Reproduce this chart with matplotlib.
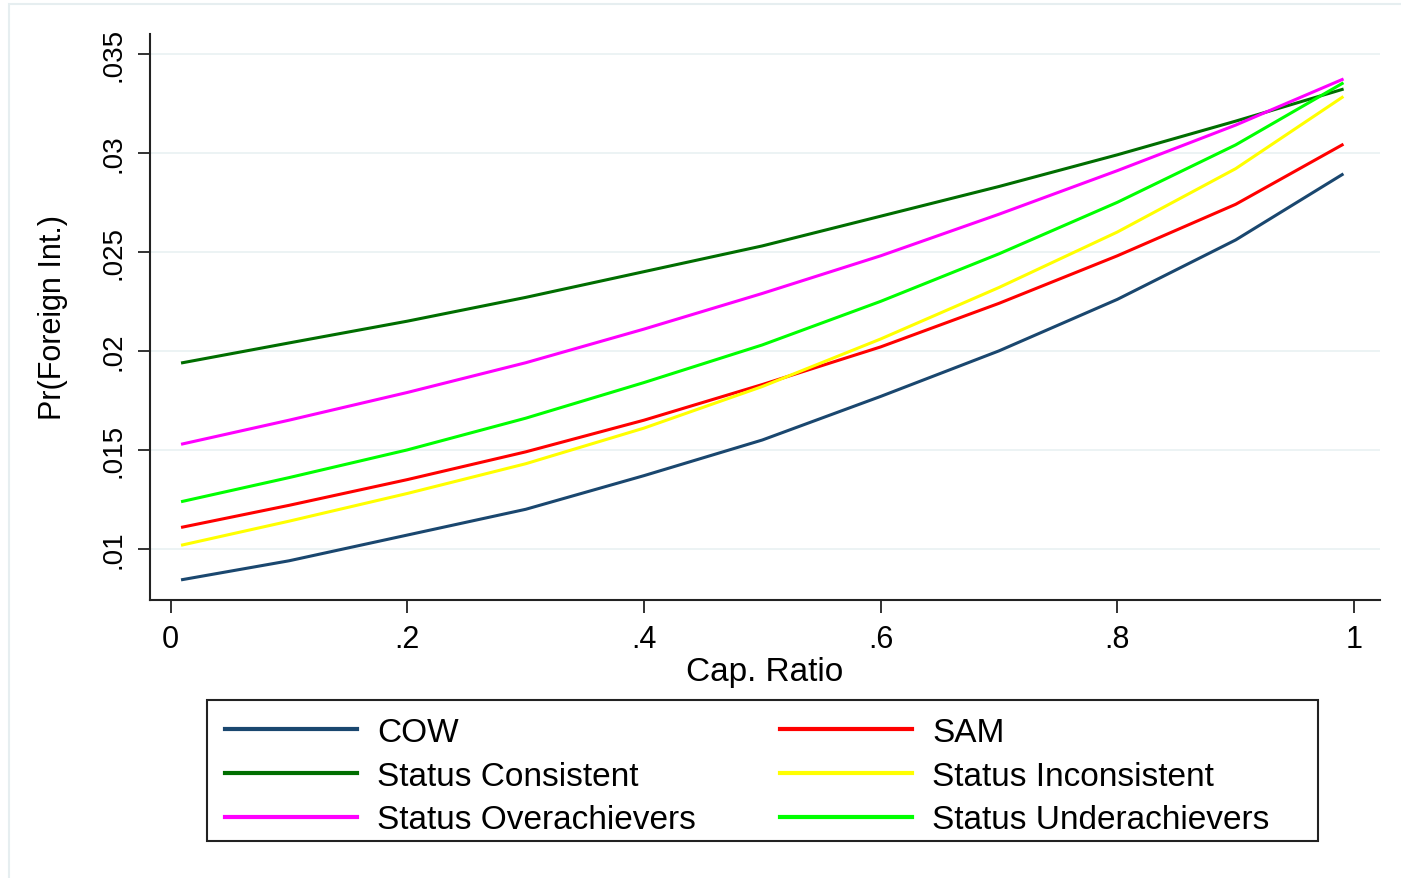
import matplotlib
matplotlib.use("Agg")
import matplotlib.pyplot as plt
from matplotlib.patches import Rectangle

plt.rcParams['font.family'] = ['Liberation Sans', 'DejaVu Sans']

# capability ratio (x) and predicted probabilities
cap_ratio = [0.01, 0.1, 0.2, 0.3, 0.4, 0.5, 0.6, 0.7, 0.8, 0.9, 0.99]

cow = [0.00845, 0.0094, 0.0107, 0.0120, 0.0137, 0.0155, 0.0177, 0.0200, 0.0226, 0.0256, 0.0289]
sam = [0.0111, 0.0122, 0.0135, 0.0149, 0.0165, 0.0183, 0.0202, 0.0224, 0.0248, 0.0274, 0.0304]
consistent = [0.0194, 0.0204, 0.0215, 0.0227, 0.0240, 0.0253, 0.0268, 0.0283, 0.0299, 0.0316, 0.0332]
inconsistent = [0.0102, 0.0114, 0.0128, 0.0143, 0.0161, 0.0182, 0.0206, 0.0232, 0.0260, 0.0292, 0.0328]
overach = [0.0153, 0.0165, 0.0179, 0.0194, 0.0211, 0.0229, 0.0248, 0.0269, 0.0291, 0.0314, 0.0337]
underach = [0.0124, 0.0136, 0.0150, 0.0166, 0.0184, 0.0203, 0.0225, 0.0249, 0.0275, 0.0304, 0.0335]

xticks = [0, 0.2, 0.4, 0.6, 0.8, 1]
xtick_labels = ['0', '.2', '.4', '.6', '.8', '1']
yticks = [0.01, 0.015, 0.02, 0.025, 0.03, 0.035]
ytick_labels = ['.01', '.015', '.02', '.025', '.03', '.035']

W, H = 1401, 879
fig = plt.figure(figsize=(W / 100, H / 100), dpi=100)

# faint outer graph-region border (Stata style)
fig.patches.append(Rectangle((9 / W, -0.01), 1.02, (H - 5) / H + 0.01, transform=fig.transFigure,
                             fill=False, edgecolor='#e6eef0', linewidth=1.5))

ax = fig.add_axes([150 / W, (H - 601) / H, 1230 / W, 566 / H])

l_cow, = ax.plot(cap_ratio, cow, color='#1a476f', lw=2.2, label='COW')
l_sam, = ax.plot(cap_ratio, sam, color='#ff0000', lw=2.2, label='SAM')
l_con, = ax.plot(cap_ratio, consistent, color='#006e00', lw=2.2, label='Status Consistent')
l_inc, = ax.plot(cap_ratio, inconsistent, color='#ffff00', lw=2.2, label='Status Inconsistent')
l_ove, = ax.plot(cap_ratio, overach, color='#ff00ff', lw=2.2, label='Status Overachievers')
l_und, = ax.plot(cap_ratio, underach, color='#00ff00', lw=2.2, label='Status Underachievers')

ax.set_xlim(-0.0175, 1.022)
ax.set_ylim(0.00742, 0.0360)

ax.set_xticks(xticks)
ax.set_xticklabels(xtick_labels, fontsize=22)
ax.set_yticks(yticks)
ax.set_yticklabels(ytick_labels, fontsize=20, rotation=90, va='center')
ax.tick_params(axis='both', direction='out', length=9, width=1.3, color='#222222', pad=8)

ax.grid(axis='y', color='#eaf2f3', lw=1.3)
ax.set_axisbelow(True)
for s in ['top', 'right']:
    ax.spines[s].set_visible(False)
for s in ['left', 'bottom']:
    ax.spines[s].set_color('#222222')
    ax.spines[s].set_linewidth(1.5)

ax.set_xlabel('Cap. Ratio', fontsize=24, labelpad=2)
ax.set_ylabel('Pr(Foreign Int.)', fontsize=22, labelpad=23)

# legend filled column by column, so order gives rows: COW/SAM, Cons/Incons, Over/Under
handles = [l_cow, l_con, l_ove, l_sam, l_inc, l_und]
leg = fig.legend(handles, [h.get_label() for h in handles], ncol=2, loc='upper left',
                 bbox_to_anchor=(225 / W, (H - 718) / H), frameon=False,
                 fontsize=24, handlelength=3.96, handletextpad=0.6,
                 columnspacing=2.53, labelspacing=0.38, borderpad=0, borderaxespad=0)
for line in leg.get_lines():
    line.set_linewidth(3)

fig.patches.append(Rectangle((207 / W, (H - 842) / H), 1111 / W, 141 / H,
                             transform=fig.transFigure, fill=False,
                             edgecolor='#222222', linewidth=1.5))

fig.savefig('out.png', dpi=100)
